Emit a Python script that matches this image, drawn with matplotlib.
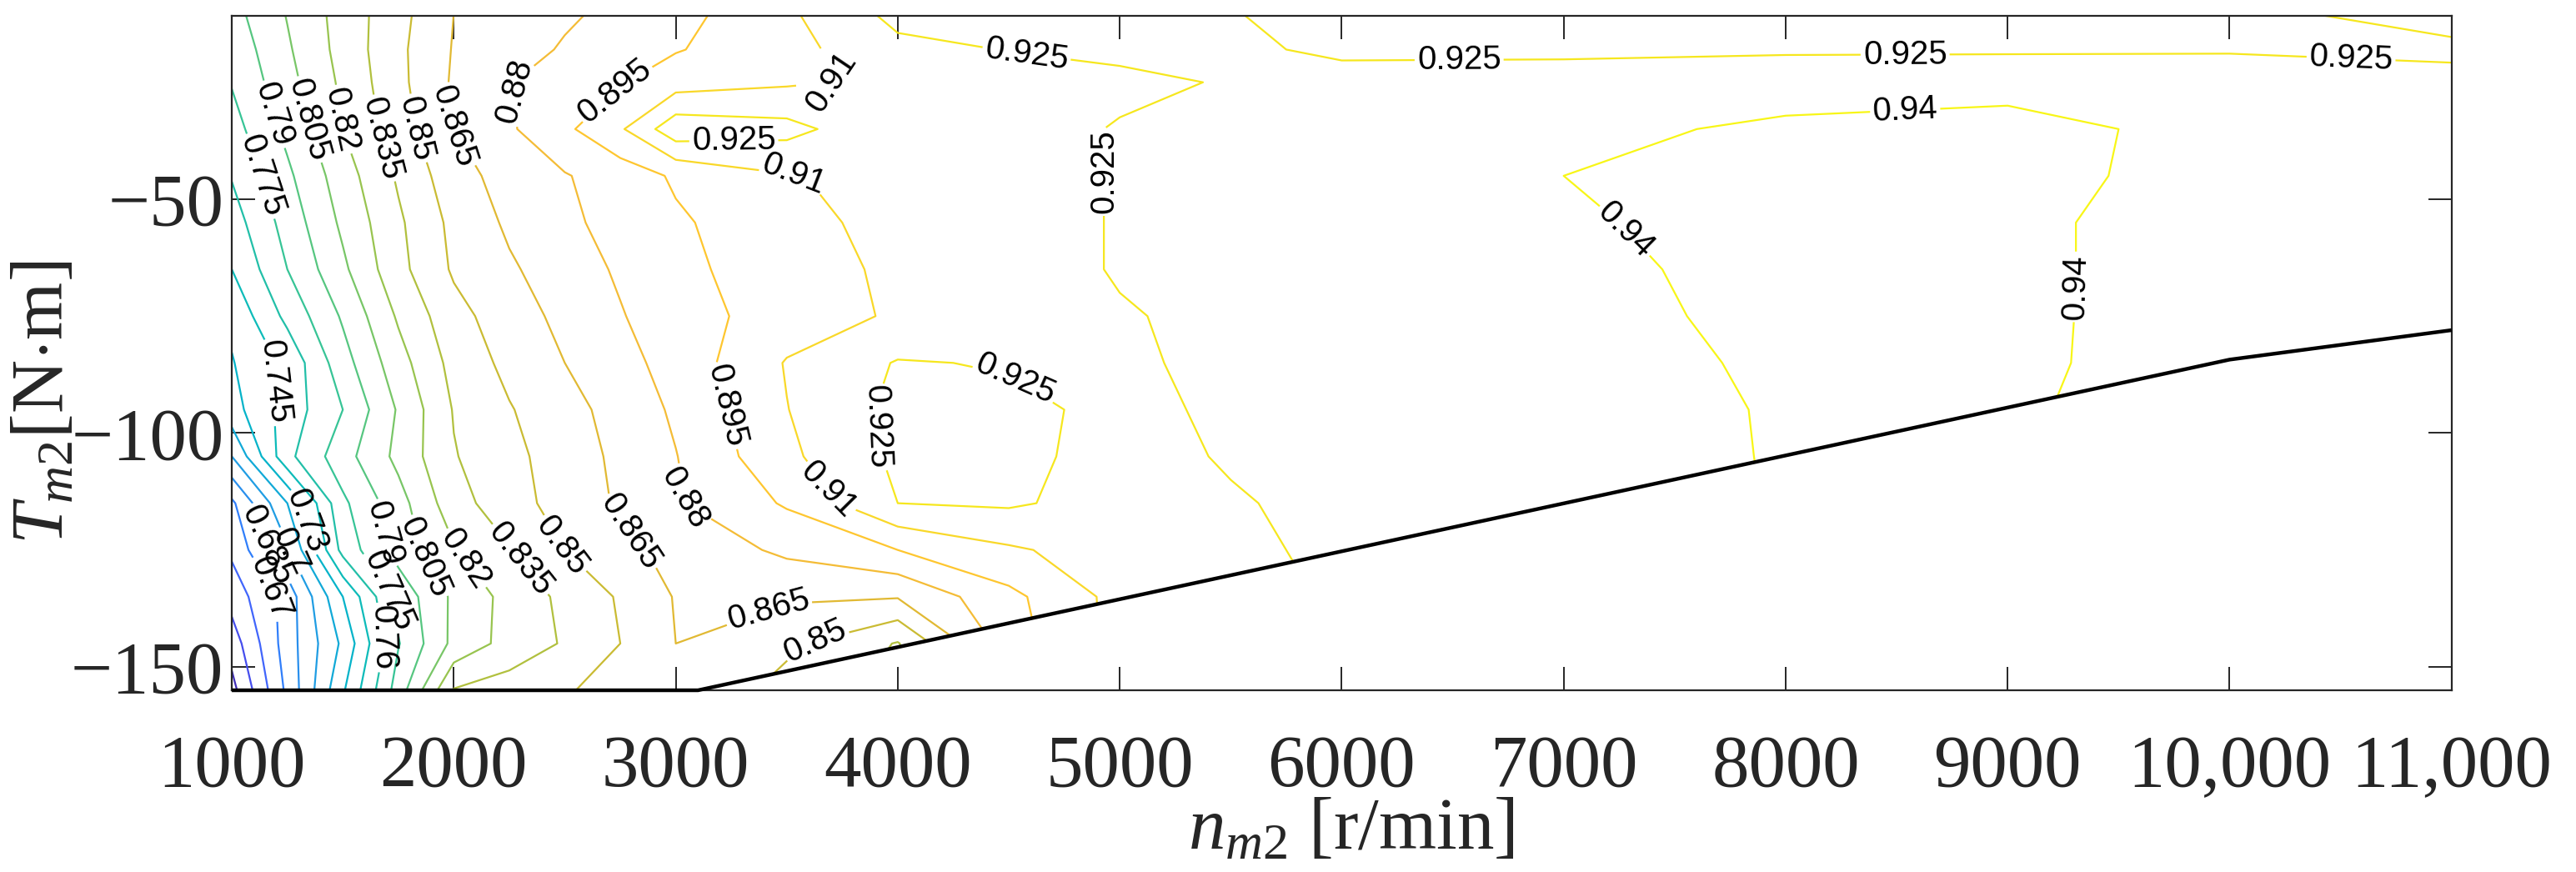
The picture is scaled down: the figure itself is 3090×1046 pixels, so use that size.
import numpy as np
import matplotlib
matplotlib.use("Agg")
import matplotlib.pyplot as plt
from matplotlib.colors import LinearSegmentedColormap, Normalize
from matplotlib.patches import Polygon

# ---------------- data ----------------
speed = [1000, 1250, 1500, 1750, 2000, 2250, 2500, 2750, 3000, 3500,
         4000, 4500, 5000, 5500, 6000, 7000, 8000, 9000, 10000, 11000]
torque = [-155, -145, -135, -125, -115, -105, -95, -85, -75, -65,
          -55, -45, -35, -25, -18, -10]

eff_t155 = [0.620, 0.6735, 0.728, 0.782, 0.836, 0.842, 0.849, 0.854, 0.863, 0.845, 0.830, 0.888, 0.915, 0.922, 0.926, 0.932, 0.941, 0.9415, 0.934, 0.933]
eff_t145 = [0.632, 0.6775, 0.718, 0.774, 0.809, 0.8255, 0.8365, 0.850, 0.865, 0.853, 0.834, 0.888, 0.915, 0.922, 0.926, 0.932, 0.941, 0.9415, 0.934, 0.933]
eff_t135 = [0.646, 0.676, 0.730, 0.780, 0.808, 0.825, 0.8386, 0.8517, 0.866, 0.867, 0.866, 0.891, 0.915, 0.922, 0.926, 0.932, 0.941, 0.9415, 0.934, 0.933]
eff_t125 = [0.658, 0.698, 0.765, 0.796, 0.8185, 0.834, 0.850, 0.861, 0.8695, 0.883, 0.895, 0.908, 0.917, 0.924, 0.926, 0.932, 0.941, 0.9415, 0.934, 0.933]
eff_t115 = [0.667, 0.715, 0.772, 0.799, 0.829, 0.844, 0.856, 0.867, 0.8784, 0.8967, 0.925, 0.927, 0.919, 0.924, 0.928, 0.932, 0.941, 0.9415, 0.934, 0.933]
eff_t105 = [0.700, 0.756, 0.784, 0.809, 0.834, 0.846, 0.857, 0.8685, 0.8795, 0.9068, 0.928, 0.928, 0.921, 0.926, 0.929, 0.934, 0.941, 0.9415, 0.934, 0.933]
eff_t95 = [0.724, 0.7515, 0.775, 0.8066, 0.836, 0.849, 0.8596, 0.8708, 0.8823, 0.9096, 0.929, 0.928, 0.922, 0.927, 0.931, 0.935, 0.941, 0.9415, 0.934, 0.933]
eff_t85 = [0.729, 0.749, 0.784, 0.814, 0.840, 0.854, 0.865, 0.875, 0.8857, 0.911, 0.926, 0.924, 0.923, 0.928, 0.931, 0.935, 0.942, 0.942, 0.935, 0.933]
eff_t75 = [0.7335, 0.764, 0.792, 0.822, 0.845, 0.858, 0.869, 0.879, 0.8885, 0.902, 0.912, 0.918, 0.924, 0.928, 0.931, 0.935, 0.944, 0.943, 0.933, 0.931]
eff_t65 = [0.745, 0.775, 0.802, 0.8305, 0.852, 0.863, 0.8727, 0.882, 0.8913, 0.903, 0.913, 0.919, 0.926, 0.929, 0.932, 0.936, 0.945, 0.944, 0.931, 0.930]
eff_t55 = [0.753, 0.781, 0.808, 0.8325, 0.854, 0.8675, 0.877, 0.885, 0.8929, 0.905, 0.915, 0.919, 0.926, 0.929, 0.933, 0.938, 0.946, 0.944, 0.931, 0.930]
eff_t45 = [0.761, 0.787, 0.813, 0.837, 0.859, 0.871, 0.879, 0.887, 0.897, 0.909, 0.915, 0.919, 0.926, 0.929, 0.933, 0.940, 0.945, 0.945, 0.934, 0.930]
eff_t35 = [0.769, 0.794, 0.820, 0.843, 0.865, 0.878, 0.892, 0.908, 0.935, 0.930, 0.912, 0.919, 0.926, 0.929, 0.932, 0.937, 0.942, 0.943, 0.937, 0.931]
eff_t25 = [0.776, 0.800, 0.823, 0.846, 0.867, 0.879, 0.891, 0.894, 0.903, 0.908, 0.913, 0.918, 0.922, 0.926, 0.929, 0.932, 0.935, 0.937, 0.932, 0.928]
eff_t18 = [0.780, 0.803, 0.8253, 0.8467, 0.866, 0.8738, 0.8815, 0.8875, 0.894, 0.905, 0.921, 0.9255, 0.928, 0.927, 0.923, 0.922, 0.923, 0.923, 0.924, 0.923]
eff_t10 = [0.785, 0.806, 0.826, 0.845, 0.865, 0.8713, 0.8776, 0.8836, 0.8894, 0.9076, 0.930, 0.929, 0.929, 0.9255, 0.920, 0.920, 0.921, 0.922, 0.923, 0.929]

levels = [0.625, 0.64, 0.655, 0.67, 0.685, 0.70, 0.715, 0.73, 0.745, 0.76,
          0.775, 0.79, 0.805, 0.82, 0.835, 0.85, 0.865, 0.88, 0.895, 0.91,
          0.925, 0.94]

# operating limit (torque envelope)
limit_speed = [1000, 3100, 10000, 11000]
limit_torque = [-155, -155, -84.3, -78]

xtick_vals = [1000, 2000, 3000, 4000, 5000, 6000, 7000, 8000, 9000, 10000, 11000]
xtick_text = ["1000", "2000", "3000", "4000", "5000", "6000", "7000", "8000",
              "9000", "10,000", "11,000"]
ytick_vals = [-150, -100, -50]
ytick_text = ["\u2212150", "\u2212100", "\u221250"]

# contour-label anchor points (speed, torque)
label_pos = [(1180, -32), (1346, -33), (1495, -33), (1678, -37), (1818, -35),
             (1993, -34.5), (2264, -27), (2701, -25.6), (1136, -45),
             (3261, -37), (3532, -44.8), (3800, -24), (4579, -19.4),
             (4936, -44), (6529, -20.5), (8538, -17.3), (10547, -20),
             (8538, -30.6), (7269, -57), (9282, -68.7), (4523, -88.8),
             (3794, -99.5), (3242, -94), (3644, -113.7), (3032, -114),
             (2781, -121.7), (2500, -123.7), (2273, -128), (2019, -128),
             (1890, -126), (1745, -121), (1700, -134), (1650, -144),
             (1203, -89), (1320, -119), (1232, -126), (1162, -124),
             (1145, -134), (3420, -138), (3625, -144)]

# ---------------- style ----------------
plt.rcParams['font.family'] = ['Liberation Sans', 'DejaVu Sans']
plt.rcParams['mathtext.fontset'] = 'custom'
plt.rcParams['mathtext.it'] = 'Liberation Serif:italic'
plt.rcParams['mathtext.rm'] = 'Liberation Serif'

parula_anchor = [
    (0.2422, 0.1504, 0.6603), (0.2780, 0.2960, 0.9200), (0.2560, 0.3960, 0.9860),
    (0.1820, 0.5030, 0.9790), (0.1540, 0.5770, 0.9170), (0.1100, 0.6370, 0.8720),
    (0.0230, 0.6880, 0.8120), (0.0180, 0.7260, 0.7520), (0.1220, 0.7480, 0.6690),
    (0.2130, 0.7670, 0.5880), (0.3480, 0.7780, 0.4930), (0.5020, 0.7780, 0.3840),
    (0.6370, 0.7620, 0.2800), (0.7460, 0.7430, 0.2060), (0.8540, 0.7240, 0.1900),
    (0.9470, 0.7280, 0.2180), (0.9950, 0.7750, 0.1850), (0.9750, 0.8520, 0.1600),
    (0.9610, 0.9170, 0.1100), (0.9769, 0.9839, 0.0805)]
parula = LinearSegmentedColormap.from_list("parula", parula_anchor, N=256)

eff = np.array([eff_t155, eff_t145, eff_t135, eff_t125, eff_t115, eff_t105,
                eff_t95, eff_t85, eff_t75, eff_t65, eff_t55, eff_t45, eff_t35,
                eff_t25, eff_t18, eff_t10])
norm = Normalize(vmin=eff.min(), vmax=eff.max())

fig = plt.figure(figsize=(30.9, 10.46), dpi=100)
ax = fig.add_axes([0.0900, 0.2084, 0.8617, 0.7734])

cs = ax.contour(speed, torque, eff, levels=levels, cmap=parula, norm=norm,
                linewidths=1.6)

clip_verts = list(zip(limit_speed, limit_torque)) + [(11000, -5), (1000, -5)]
clip_patch = Polygon(clip_verts, closed=True, transform=ax.transData,
                     facecolor='none', edgecolor='none')
cs.set_clip_path(clip_patch)

def fmt(v):
    return f"{round(v, 3):g}"

texts = ax.clabel(cs, manual=label_pos, inline=True, inline_spacing=3,
                  fontsize=29, fmt=fmt, colors='black')

ax.plot(limit_speed, limit_torque, color='black', lw=3.2, clip_on=False,
        zorder=5, solid_capstyle='butt')

ax.set_xlim(1000, 11000)
ax.set_ylim(-155, -10.8)
ax.set_xticks(xtick_vals)
ax.set_xticklabels(xtick_text)
ax.set_yticks(ytick_vals)
ax.set_yticklabels(ytick_text)

axcol = (0.15, 0.15, 0.15)
for s in ax.spines.values():
    s.set_linewidth(1.6)
    s.set_color(axcol)
ax.tick_params(direction='in', length=20, width=1.4, top=True, right=True,
               labelsize=64, labelfontfamily='Liberation Serif',
               color=axcol, labelcolor=axcol)
ax.tick_params(axis='x', pad=38)
ax.tick_params(axis='y', pad=7)

fig.text(0.5246, 0.026, r'$n_{\mathit{m2}}$ [r/min]', ha='center',
         va='baseline', fontsize=64, family='Liberation Serif', color=axcol)
fig.text(0.0175, 0.538, r'$T_{\mathit{m2}}$[N$\cdot$m]', rotation=90,
         ha='center', va='center', fontsize=64, family='Liberation Serif',
         color=axcol)

fig.savefig("out.png", dpi=100)
